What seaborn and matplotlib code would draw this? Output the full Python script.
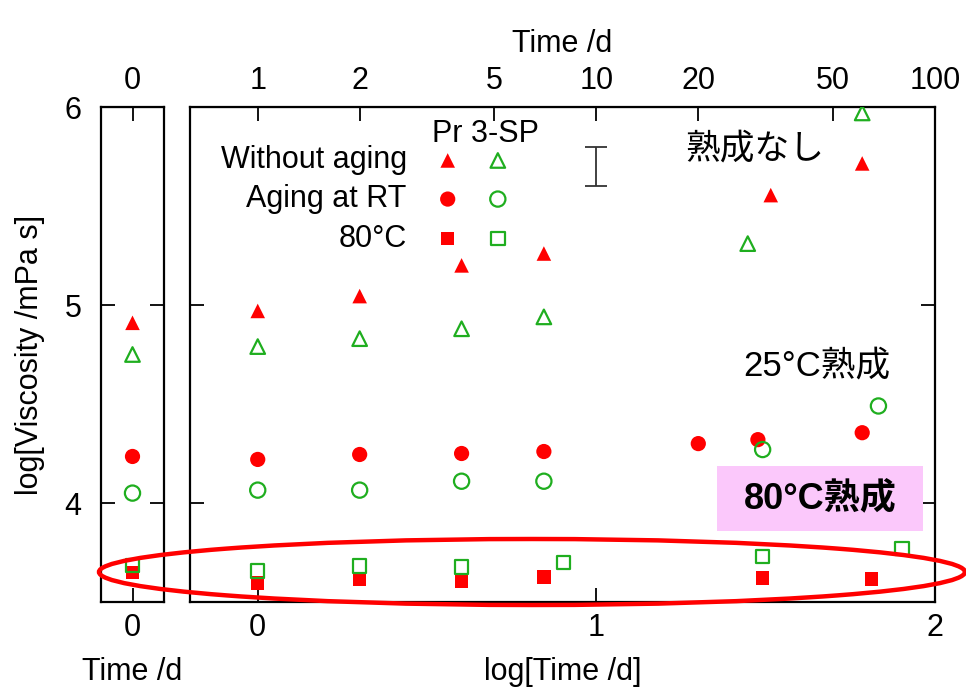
import numpy as np
import matplotlib
matplotlib.use("Agg")
import matplotlib.pyplot as plt
from matplotlib.patches import Ellipse, Rectangle
import seaborn as sns

# ============================================
# Data (log[Time /d] vs log[Viscosity /mPa s])
# ============================================

RED = "#ff0000"
GREEN = "#1fae1f"

# without aging (triangles)
noage_red_x = [0.0, 0.301, 0.602, 0.845, 1.515, 1.785]
noage_red_y = [4.97, 5.045, 5.20, 5.26, 5.555, 5.715]
noage_grn_x = [0.0, 0.301, 0.602, 0.845, 1.447, 1.785]
noage_grn_y = [4.79, 4.83, 4.88, 4.94, 5.31, 5.97]

# aging at RT (circles)
rt_red_x = [0.0, 0.301, 0.602, 0.845, 1.301, 1.477, 1.785]
rt_red_y = [4.22, 4.245, 4.25, 4.26, 4.30, 4.32, 4.355]
rt_grn_x = [0.0, 0.301, 0.602, 0.845, 1.491, 1.833]
rt_grn_y = [4.065, 4.065, 4.11, 4.11, 4.27, 4.49]

# aging at 80 C (squares)
c80_red_x = [0.0, 0.301, 0.602, 0.845, 1.491, 1.813]
c80_red_y = [3.596, 3.616, 3.606, 3.626, 3.62, 3.615]
c80_grn_x = [0.0, 0.301, 0.602, 0.903, 1.491, 1.903]
c80_grn_y = [3.657, 3.682, 3.677, 3.70, 3.73, 3.77]

# time = 0 panel
t0_red_y = [4.91, 4.235, 3.65]
t0_grn_y = [4.75, 4.05, 3.685]

# error bar
err_x = [1.0]
err_y = [5.70]
err_half = [0.097]

# top axis (Time /d)
top_days = [1, 2, 5, 10, 20, 50, 100]

# legend
legend_labels = ["Without aging", "Aging at RT", "80°C"]
legend_markers = ["^", "o", "s"]
legend_y = [5.73, 5.535, 5.335]
legend_red_x = 0.561
legend_grn_x = 0.709

# ============================================
# Setup
# ============================================

sns.set_style("white")
plt.rcParams["font.family"] = ["Liberation Sans", "Noto Sans CJK JP"]
plt.rcParams["font.size"] = 22
for key in ("text.color", "axes.labelcolor", "xtick.color", "ytick.color"):
    plt.rcParams[key] = "black"

W, H = 966, 699
fig = plt.figure(figsize=(W / 100, H / 100), dpi=100)

ax0 = fig.add_axes([101 / W, 97 / H, 63 / W, 495 / H])
ax = fig.add_axes([190 / W, 97 / H, 745 / W, 495 / H])

SIZES = {"^": 110, "o": 120, "s": 95}


def pts(a, x, y, marker, color, filled):
    if filled:
        sns.scatterplot(x=x, y=y, marker=marker, s=SIZES[marker], color=color,
                        edgecolor="none", linewidth=0, ax=a, zorder=3)
    else:
        sns.scatterplot(x=x, y=y, marker=marker, s=SIZES[marker], color=color,
                        facecolor="none", edgecolor=color, linewidth=1.6,
                        ax=a, zorder=3)


# main panel
pts(ax, noage_red_x, noage_red_y, "^", RED, True)
pts(ax, noage_grn_x, noage_grn_y, "^", GREEN, False)
pts(ax, rt_red_x, rt_red_y, "o", RED, True)
pts(ax, rt_grn_x, rt_grn_y, "o", GREEN, False)
pts(ax, c80_red_x, c80_red_y, "s", RED, True)
pts(ax, c80_grn_x, c80_grn_y, "s", GREEN, False)

# time = 0 panel
for i, m in enumerate(legend_markers):
    pts(ax0, [0], [t0_red_y[i]], m, RED, True)
    pts(ax0, [0], [t0_grn_y[i]], m, GREEN, False)

# legend drawn inside the plot
ax.text(0.671, 5.865, "Pr 3-SP", ha="center", va="center", fontsize=22)
for lab, m, ly in zip(legend_labels, legend_markers, legend_y):
    ax.text(0.44, ly, lab, ha="right", va="center", fontsize=22)
    pts(ax, [legend_red_x], [ly], m, RED, True)
    pts(ax, [legend_grn_x], [ly], m, GREEN, False)

# error bar
ax.errorbar(err_x, err_y, yerr=err_half, fmt="none", ecolor="#333333",
            elinewidth=1.3, capsize=8, capthick=1.3)

# annotations
ax.text(1.468, 5.79, "熟成なし", ha="center", va="center", fontsize=25)
ax.text(1.651, 4.69, "25°C熟成", ha="center", va="center", fontsize=25)
ax.add_patch(Rectangle((1.356, 3.859), 0.609, 0.328, facecolor="#fbc8fb",
                       edgecolor="none", zorder=2))
ax.text(1.66, 4.02, "80°C熟成", ha="center", va="center", fontsize=26,
        fontweight="bold", zorder=4)

# ============================================
# Axes styling
# ============================================

for a in (ax0, ax):
    a.set_ylim(3.5, 6)
    for sp in a.spines.values():
        sp.set_linewidth(1.6)
        sp.set_color("black")
    a.tick_params(direction="in", length=10, width=1.3, labelsize=22,
                  left=True, right=True, bottom=True, top=False, pad=8)
    a.set_yticks([4, 5, 6])

ax0.set_xlim(-1, 1)
ax0.set_xticks([0])
ax0.set_xlabel("Time /d", fontsize=22, labelpad=10)
ax0.set_ylabel("log[Viscosity /mPa s]", fontsize=22, labelpad=14)
ax0.tick_params(axis="y", pad=14)
top0 = ax0.secondary_xaxis("top")
top0.set_xticks([0])
top0.tick_params(direction="in", length=10, width=1.3, labelsize=22, pad=8)

ax.set_xlim(-0.2, 2)
ax.set_xticks([0, 1, 2])
ax.tick_params(labelleft=False)
ax.set_xlabel("log[Time /d]", fontsize=22, labelpad=10)
top = ax.secondary_xaxis("top")
top.set_xticks(np.log10(top_days))
top.set_xticklabels([str(d) for d in top_days])
top.tick_params(direction="in", length=10, width=1.3, labelsize=22, pad=8)
top.set_xlabel("Time /d", fontsize=22, labelpad=10)

# red ellipse around the 80 C data
fig.add_artist(Ellipse((532 / W, 1 - 572 / H), 866 / W, 66 / H,
                       transform=fig.transFigure, fill=False,
                       edgecolor=RED, linewidth=3.2, zorder=10))

fig.savefig("out.png", dpi=100)
